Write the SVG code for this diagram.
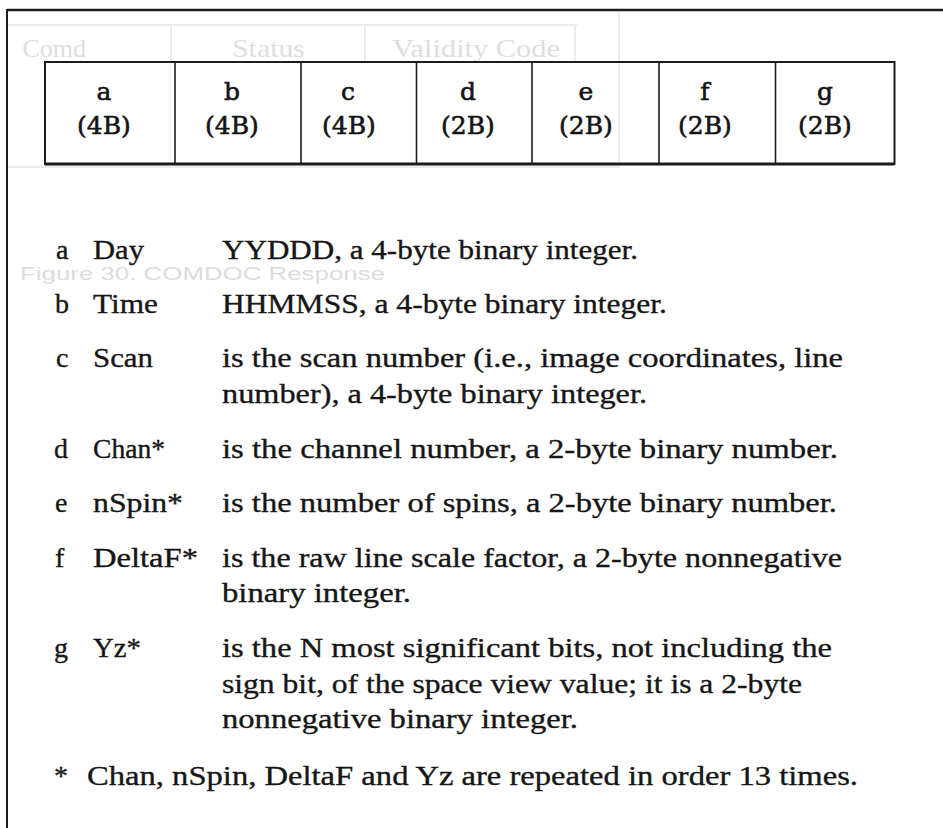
<svg xmlns="http://www.w3.org/2000/svg" width="943" height="828" viewBox="0 0 943 828">
  <style>
    .ghostline { stroke: #e6e6e6; stroke-width: 1.5; fill: none; }
    .ghosttxt { fill: #dedede; font-family: "Liberation Serif", serif; font-size: 26px; }
    .ghostsans { fill: #dcdcdc; font-family: "Liberation Sans", sans-serif; font-size: 18px; }
    .frame { stroke: #1c1c1c; fill: none; }
    .cell { fill: none; stroke: #1c1c1c; stroke-width: 2; }
    .div { stroke: #1c1c1c; stroke-width: 1.6; }
    .ct { font-family: "DejaVu Serif", "Liberation Serif", serif; font-size: 25px; fill: #141414; stroke: #141414; stroke-width: 0.6; text-anchor: middle; }
    .bt { font-family: "Liberation Serif", serif; font-size: 28px; fill: #161616; stroke: #161616; stroke-width: 0.35; }
  </style>
  <rect x="0" y="0" width="943" height="828" fill="#ffffff"/>

  <g id="ghost">
    <line class="ghostline" x1="7" y1="25" x2="577" y2="25"/>
    <line class="ghostline" x1="7" y1="167" x2="619" y2="167"/>
    <line class="ghostline" x1="619" y1="10" x2="619" y2="167"/>
    <line class="ghostline" x1="171" y1="25" x2="171" y2="62"/>
    <line class="ghostline" x1="365" y1="25" x2="365" y2="62"/>
    <line class="ghostline" x1="575" y1="25" x2="575" y2="62"/>
    <text class="ghosttxt" x="86" y="57" text-anchor="end">Comd</text>
    <text class="ghosttxt" x="232" y="57" textLength="73" lengthAdjust="spacingAndGlyphs">Status</text>
    <text class="ghosttxt" x="392" y="57" textLength="168" lengthAdjust="spacingAndGlyphs">Validity Code</text>
    <text class="ghostsans" x="20" y="280" textLength="365" lengthAdjust="spacingAndGlyphs">Figure 30. COMDOC Response</text>
  </g>

  <g id="frame">
    <line class="frame" x1="7" y1="10" x2="943" y2="10" stroke-width="2.6"/>
    <line class="frame" x1="7" y1="9" x2="7" y2="828" stroke-width="2"/>
  </g>

  <g id="record-table">
    <rect class="cell" x="45" y="62" width="849.5" height="102"/>
    <line x1="45" y1="164" x2="894.5" y2="164" stroke="#1c1c1c" stroke-width="2.8"/>
    <g id="cell-a">
      <text class="ct" x="104" y="100">a</text>
      <text class="ct" x="104" y="134">(4B)</text>
    </g>
    <g id="cell-b">
      <line class="div" x1="175" y1="62" x2="175" y2="164"/>
      <text class="ct" x="232" y="100">b</text>
      <text class="ct" x="232" y="134">(4B)</text>
    </g>
    <g id="cell-c">
      <line class="div" x1="301" y1="62" x2="301" y2="164"/>
      <text class="ct" x="348" y="100">c</text>
      <text class="ct" x="349" y="134">(4B)</text>
    </g>
    <g id="cell-d">
      <line class="div" x1="416.5" y1="62" x2="416.5" y2="164"/>
      <text class="ct" x="468" y="100">d</text>
      <text class="ct" x="468" y="134">(2B)</text>
    </g>
    <g id="cell-e">
      <line class="div" x1="532" y1="62" x2="532" y2="164"/>
      <text class="ct" x="586" y="100">e</text>
      <text class="ct" x="586" y="134">(2B)</text>
    </g>
    <g id="cell-f">
      <line class="div" x1="659" y1="62" x2="659" y2="164"/>
      <text class="ct" x="705" y="100">f</text>
      <text class="ct" x="705" y="134">(2B)</text>
    </g>
    <g id="cell-g">
      <line class="div" x1="775.5" y1="62" x2="775.5" y2="164"/>
      <text class="ct" x="825" y="100">g</text>
      <text class="ct" x="825" y="134">(2B)</text>
    </g>
  </g>

  <g id="legend">
    <g id="item-a">
      <text class="bt" x="56" y="259">a</text>
      <text class="bt" x="93" y="259" textLength="51" lengthAdjust="spacingAndGlyphs">Day</text>
      <text class="bt" x="222" y="259" textLength="416" lengthAdjust="spacingAndGlyphs">YYDDD, a 4-byte binary integer.</text>
    </g>
    <g id="item-b">
      <text class="bt" x="55" y="313">b</text>
      <text class="bt" x="93" y="313" textLength="65" lengthAdjust="spacingAndGlyphs">Time</text>
      <text class="bt" x="222" y="313" textLength="445" lengthAdjust="spacingAndGlyphs">HHMMSS, a 4-byte binary integer.</text>
    </g>
    <g id="item-c">
      <text class="bt" x="56" y="367">c</text>
      <text class="bt" x="93" y="367" textLength="60" lengthAdjust="spacingAndGlyphs">Scan</text>
      <text class="bt" x="222" y="367" textLength="621" lengthAdjust="spacingAndGlyphs">is the scan number (i.e., image coordinates, line</text>
      <text class="bt" x="222" y="403" textLength="425" lengthAdjust="spacingAndGlyphs">number), a 4-byte binary integer.</text>
    </g>
    <g id="item-d">
      <text class="bt" x="54" y="458">d</text>
      <text class="bt" x="93" y="458" textLength="72" lengthAdjust="spacingAndGlyphs">Chan*</text>
      <text class="bt" x="222" y="458" textLength="616" lengthAdjust="spacingAndGlyphs">is the channel number, a 2-byte binary number.</text>
    </g>
    <g id="item-e">
      <text class="bt" x="55" y="512">e</text>
      <text class="bt" x="93" y="512" textLength="90" lengthAdjust="spacingAndGlyphs">nSpin*</text>
      <text class="bt" x="222" y="512" textLength="615" lengthAdjust="spacingAndGlyphs">is the number of spins, a 2-byte binary number.</text>
    </g>
    <g id="item-f">
      <text class="bt" x="55" y="567">f</text>
      <text class="bt" x="93" y="567" textLength="105" lengthAdjust="spacingAndGlyphs">DeltaF*</text>
      <text class="bt" x="222" y="567" textLength="620" lengthAdjust="spacingAndGlyphs">is the raw line scale factor, a 2-byte nonnegative</text>
      <text class="bt" x="222" y="602" textLength="189" lengthAdjust="spacingAndGlyphs">binary integer.</text>
    </g>
    <g id="item-g">
      <text class="bt" x="54" y="657">g</text>
      <text class="bt" x="93" y="657" textLength="48" lengthAdjust="spacingAndGlyphs">Yz*</text>
      <text class="bt" x="222" y="657" textLength="610" lengthAdjust="spacingAndGlyphs">is the N most significant bits, not including the</text>
      <text class="bt" x="222" y="693" textLength="580" lengthAdjust="spacingAndGlyphs">sign bit, of the space view value; it is a 2-byte</text>
      <text class="bt" x="222" y="728" textLength="356" lengthAdjust="spacingAndGlyphs">nonnegative binary integer.</text>
    </g>
    <g id="footnote">
      <text class="bt" x="54" y="785">*</text>
      <text class="bt" x="87" y="785" textLength="771" lengthAdjust="spacingAndGlyphs">Chan, nSpin, DeltaF and Yz are repeated in order 13 times.</text>
    </g>
  </g>
</svg>
